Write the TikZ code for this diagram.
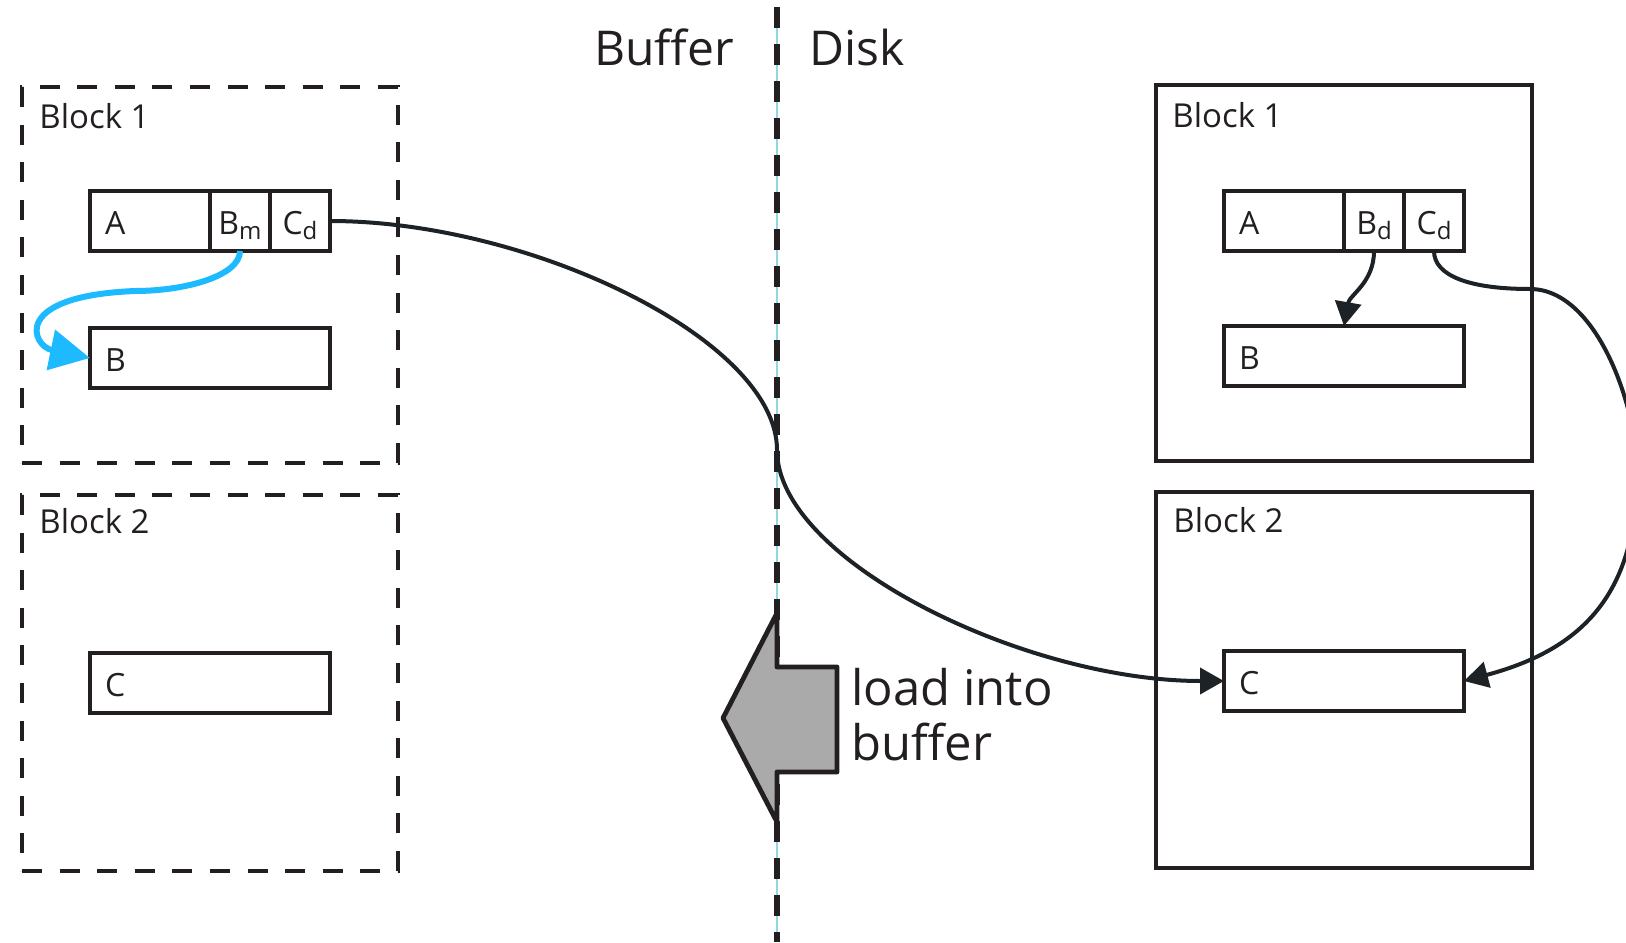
\documentclass[tikz,border=0pt]{standalone}
\usepackage{fontspec}
\setmainfont{Open Sans}
\definecolor{InkDark}{HTML}{231F20}
\definecolor{LinkDark}{HTML}{1C2226}
\definecolor{PtrBlue}{HTML}{1DBAFF}
\definecolor{DivCyan}{HTML}{8ED8E2}
\definecolor{LoadGrey}{HTML}{AAAAAA}
\usetikzlibrary{arrows.meta, positioning}
\newcommand\lowsub[1]{\raisebox{-2.5pt}{\fontsize{12pt}{12pt}\selectfont #1}}

\begin{document}
\begin{tikzpicture}[x=0.5pt, y=0.5pt, >={Triangle[length=12pt,width=13pt]},
    field/.style={draw=InkDark, line width=2.4pt, minimum height=30pt, inner sep=0pt, outer sep=0pt,
                  text height=13pt, text depth=0pt, text=InkDark, font=\fontsize{16pt}{18pt}\selectfont},
    keyfield/.style={field, minimum width=60pt, text width=45pt, align=left},
    ptrfield/.style={field, minimum width=30pt},
    recbox/.style={field, minimum width=120pt, text width=105pt, align=left},
    bufblock/.style={draw=InkDark, line width=2.4pt, dash pattern=on 10pt off 8.8pt,
                     minimum size=188pt, inner sep=0pt, outer sep=0pt, anchor=north west},
    diskblock/.style={draw=InkDark, line width=2.4pt,
                      minimum size=188pt, inner sep=0pt, outer sep=0pt, anchor=north west},
    blocktitle/.style={anchor=base west, inner sep=0pt, text=InkDark, font=\fontsize{16.5pt}{18pt}\selectfont},
    sidetitle/.style={anchor=base west, inner sep=0pt, text=InkDark, font=\fontsize{24pt}{27.5pt}\selectfont},
    divider/.style={draw=InkDark, line width=2.6pt, dash pattern=on 10.5pt off 8pt},
    link/.style={->, draw=LinkDark, line width=2pt},
    ptr/.style={-{Triangle[length=20pt,width=20pt]}, draw=PtrBlue, line width=3pt},
    loadarrow/.style={draw=InkDark, fill=LoadGrey, line width=2.4pt, line join=round}]
  \useasboundingbox (0,0) rectangle (1626,-942);
  \clip (0,0) rectangle (1626,-942);
  \coordinate (divtop) at (777,-7);
  \coordinate (divbot) at (777,-942);
  \draw[DivCyan, line width=1pt] (divtop) -- (divbot);
  \draw[divider] (divtop) -- (divbot);
  \node[sidetitle] (buftitle) at (594,-65) {Buffer};
  \node[sidetitle] (disktitle) at (809,-65) {Disk};

  \node[bufblock] (bufone) at (22,-87) {};
  \node[bufblock] (buftwo) at (22,-495) {};
  \node[diskblock] (diskone) at (1156,-85) {};
  \node[diskblock] (disktwo) at (1156,-492) {};
  \node[blocktitle] (bufonetitle) at (39,-128) {Block 1};
  \node[blocktitle] (buftwotitle) at (39,-533) {Block 2};
  \node[blocktitle] (diskonetitle) at (1172,-127) {Block 1};
  \node[blocktitle] (disktwotitle) at (1173,-532) {Block 2};

  \node[keyfield, anchor=north west] (bufA) at (90,-191) {A};
  \node[ptrfield, right=0pt of bufA] (bufBm) {B\lowsub{m}};
  \node[ptrfield, right=0pt of bufBm] (bufCd) {C\lowsub{d}};
  \node[recbox, anchor=north west] (bufB) at (90,-328) {B};
  \node[recbox, anchor=north west] (bufC) at (90,-653) {C};

  \node[keyfield, anchor=north west] (diskA) at (1224,-191) {A};
  \node[ptrfield, right=0pt of diskA] (diskBd) {B\lowsub{d}};
  \node[ptrfield, right=0pt of diskBd] (diskCd) {C\lowsub{d}};
  \node[recbox, anchor=north west] (diskB) at (1224,-326) {B};
  \node[recbox, anchor=north west] (diskC) at (1224,-651) {C};

  \coordinate (cross) at (777,-450);
  \coordinate (loopin) at (1530,-289);
  \coordinate (loopout) at (1637,-472);
  \coordinate (bluebend) at (135,-291);
  \draw[link] (bufCd.east) .. controls +(200,0) and +(0,110) .. (cross)
    .. controls +(0,-110) and +(-200,0) .. (diskC.west);
  \draw[link] (diskBd.south) to[out=-90, in=80] (diskB.north);
  \draw[link] (diskCd.south) .. controls +(0,-25) and +(-60,0) .. (loopin)
    to[out=0, in=90, looseness=0.8] (loopout) to[out=-90, in=15, looseness=1.15] (diskC.east);
  \draw[ptr] (bufBm.south) .. controls +(0,-25) and +(50,0) .. (bluebend)
    .. controls +(-125,-5) and +(-58,12) .. (bufB.west);

  \draw[loadarrow] (723,-718) -- (777,-613) -- (777,-667) -- (837,-667) -- (837,-772)
    -- (777,-772) -- (777,-822) -- cycle;
  \node[sidetitle, anchor=north west, align=left, font=\fontsize{24.5pt}{27.5pt}\selectfont]
    (loadnote) at (851,-668) {load into\\buffer};
\end{tikzpicture}
\end{document}
